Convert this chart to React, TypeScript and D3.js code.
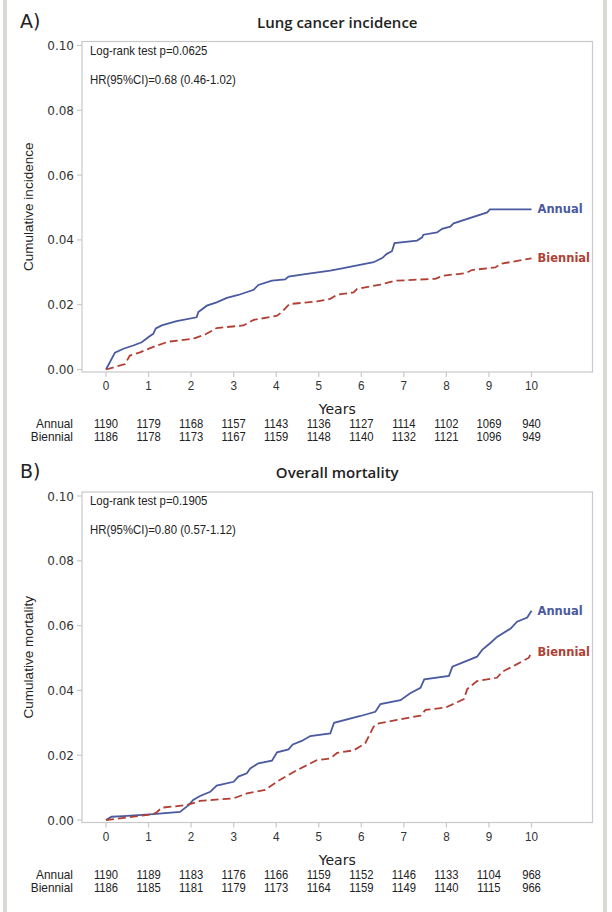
import React from "react";
import * as d3 from "d3";

const years = [0, 1, 2, 3, 4, 5, 6, 7, 8, 9, 10];
const yTicks = [0, 0.02, 0.04, 0.06, 0.08, 0.1];

// Panel A: lung cancer incidence, [year, cumulative incidence]
const incAnnual: [number, number][] = [
  [0, 0], [0.21, 0.0052], [0.41, 0.0064], [0.64, 0.0074], [0.84, 0.0084], [1.0, 0.01], [1.11, 0.011],
  [1.17, 0.0127], [1.31, 0.0136], [1.66, 0.0149], [2.13, 0.0161], [2.17, 0.0177], [2.37, 0.0197],
  [2.6, 0.0207], [2.84, 0.0221], [3.11, 0.023], [3.47, 0.0246], [3.58, 0.0261], [3.9, 0.0274],
  [4.21, 0.0278], [4.29, 0.0287], [4.72, 0.0295], [5.27, 0.0305], [5.58, 0.0313], [6.29, 0.0331],
  [6.49, 0.0344], [6.6, 0.0357], [6.72, 0.0365], [6.78, 0.039], [7.31, 0.0398], [7.43, 0.0408],
  [7.46, 0.0416], [7.78, 0.0423], [7.9, 0.0434], [8.09, 0.0441], [8.17, 0.0451], [8.96, 0.0485],
  [9.02, 0.0494], [10.0, 0.0494],
];
const incBiennial: [number, number][] = [
  [0, 0], [0.45, 0.0017], [0.56, 0.0043], [0.8, 0.0053], [1.15, 0.0072], [1.47, 0.0086], [2.05, 0.0095],
  [2.33, 0.0108], [2.6, 0.0128], [3.23, 0.0136], [3.47, 0.0153], [4.02, 0.0166], [4.13, 0.0177],
  [4.31, 0.0202], [4.96, 0.021], [5.27, 0.0218], [5.43, 0.0231], [5.82, 0.0238], [5.9, 0.0249],
  [6.45, 0.0262], [6.8, 0.0274], [7.74, 0.028], [7.94, 0.029], [8.45, 0.0297], [8.6, 0.0307],
  [9.15, 0.0315], [9.27, 0.0326], [10.0, 0.0343],
];

// Panel B: overall mortality
const mortAnnual: [number, number][] = [
  [0, 0], [0.13, 0.001], [0.41, 0.0012], [1.11, 0.0018], [1.74, 0.0025], [1.94, 0.0046], [2.05, 0.0062],
  [2.21, 0.0074], [2.45, 0.0087], [2.6, 0.0106], [3.0, 0.0118], [3.11, 0.0134], [3.31, 0.0144],
  [3.39, 0.0159], [3.58, 0.0175], [3.9, 0.0183], [4.02, 0.0209], [4.29, 0.0218], [4.39, 0.0233],
  [4.6, 0.0244], [4.8, 0.0259], [5.27, 0.0267], [5.36, 0.03], [5.98, 0.0321], [6.33, 0.0334],
  [6.45, 0.0358], [6.92, 0.037], [7.15, 0.0391], [7.39, 0.0408], [7.48, 0.0434], [8.06, 0.0445],
  [8.14, 0.0473], [8.72, 0.0504], [8.84, 0.0525], [9.04, 0.0547], [9.19, 0.0565], [9.51, 0.0591],
  [9.66, 0.0612], [9.9, 0.0625], [10.0, 0.0646],
];
const mortBiennial: [number, number][] = [
  [0, 0], [1.11, 0.0018], [1.2, 0.0025], [1.31, 0.0038], [1.9, 0.0046], [2.21, 0.0059], [3.0, 0.0067],
  [3.31, 0.0082], [3.74, 0.0093], [4.05, 0.0121], [4.49, 0.0154], [4.96, 0.0185], [5.27, 0.019],
  [5.43, 0.0207], [5.82, 0.0215], [6.09, 0.0236], [6.29, 0.0288], [6.41, 0.0298], [6.84, 0.0309],
  [7.39, 0.0322], [7.51, 0.034], [7.98, 0.0347], [8.41, 0.0373], [8.49, 0.0404], [8.72, 0.0429],
  [9.19, 0.0439], [9.31, 0.0457], [9.66, 0.0481], [9.94, 0.0501], [10.0, 0.052],
];

const incRiskAnnual = [1190, 1179, 1168, 1157, 1143, 1136, 1127, 1114, 1102, 1069, 940];
const incRiskBiennial = [1186, 1178, 1173, 1167, 1159, 1148, 1140, 1132, 1121, 1096, 949];
const mortRiskAnnual = [1190, 1189, 1183, 1176, 1166, 1159, 1152, 1146, 1133, 1104, 968];
const mortRiskBiennial = [1186, 1185, 1181, 1179, 1173, 1164, 1159, 1149, 1140, 1115, 966];

const BLUE = "#4a5a9e";
const RED = "#b23f33";
const GRID = "#c9c9c9";
const FONT = "'DejaVu Sans', sans-serif";
const LIB = "'Liberation Sans', Arial, sans-serif";

type PanelProps = {
  top: number;
  letter: string;
  title: string;
  yLabel: string;
  pText: string;
  hrText: string;
  annual: [number, number][];
  biennial: [number, number][];
  riskA: number[];
  riskB: number[];
};

const FRAME_L = 82;
const FRAME_R = 592.5;

function NText(props: { x: number; y: number; anchor?: string; size: number; sx?: number; children: React.ReactNode; fill?: string }) {
  const sx = props.sx ?? 0.9;
  return (
    <text
      transform={`translate(${props.x},${props.y}) scale(${sx},1)`}
      textAnchor={props.anchor || "start"}
      fontFamily={LIB}
      fontSize={props.size}
      fill={props.fill || "#222"}
    >
      {props.children}
    </text>
  );
}

function Panel(p: PanelProps) {
  const t = p.top; // frame top
  const x = d3.scaleLinear().domain([0, 10]).range([106, 531.5]);
  const y = d3.scaleLinear().domain([0, 0.1]).range([t + 328, t + 4]);
  const frameBottom = t + 330.5;
  const line = d3
    .line<[number, number]>()
    .x((d) => x(d[0]))
    .y((d) => y(d[1]));
  const lastA = p.annual[p.annual.length - 1];
  const lastB = p.biennial[p.biennial.length - 1];
  return (
    <g>
      <text x={20} y={t - 14} fontFamily={FONT} fontSize={19} fill="#222">
        {p.letter}
      </text>
      <text
        x={(FRAME_L + FRAME_R) / 2}
        y={t - 14}
        textAnchor="middle"
        fontFamily="'Open Sans', sans-serif"
        fontSize={15}
        fontWeight={600}
        fill="#222"
      >
        {p.title}
      </text>
      <rect x={FRAME_L} y={t} width={FRAME_R - FRAME_L} height={frameBottom - t} fill="#fff" stroke={GRID} strokeWidth={1.2} />
      {yTicks.map((v) => (
        <g key={v}>
          <line x1={FRAME_L - 5} x2={FRAME_L} y1={y(v)} y2={y(v)} stroke={GRID} strokeWidth={1.2} />
          <text x={FRAME_L - 8} y={y(v) + 4.5} textAnchor="end" fontFamily={FONT} fontSize={12} fill="#333">
            {v.toFixed(2)}
          </text>
        </g>
      ))}
      {years.map((v) => (
        <g key={v}>
          <line x1={x(v)} x2={x(v)} y1={frameBottom} y2={frameBottom + 5} stroke={GRID} strokeWidth={1.2} />
          <NText x={x(v)} y={frameBottom + 18} anchor="middle" size={13} fill="#333">
            {v}
          </NText>
        </g>
      ))}
      <text
        transform={`translate(33,${(t + frameBottom) / 2}) rotate(-90)`}
        textAnchor="middle"
        fontFamily={LIB}
        fontSize={13.5}
        fill="#222"
      >
        {p.yLabel}
      </text>
      <NText x={90} y={t + 13} size={12} sx={0.95}>
        {p.pText}
      </NText>
      <NText x={90} y={t + 42} size={12} sx={0.95}>
        {p.hrText}
      </NText>
      <path d={line(p.annual) || ""} fill="none" stroke={BLUE} strokeWidth={1.8} />
      <path d={line(p.biennial) || ""} fill="none" stroke={RED} strokeWidth={1.8} strokeDasharray="8,4" />
      <text x={x(lastA[0]) + 6} y={y(lastA[1]) + 4} fontFamily={FONT} fontSize={11.5} fontWeight="bold" fill={BLUE}>
        Annual
      </text>
      <text x={x(lastB[0]) + 6} y={y(lastB[1]) + 4} fontFamily={FONT} fontSize={11.5} fontWeight="bold" fill={RED}>
        Biennial
      </text>
      <text x={(FRAME_L + FRAME_R) / 2} y={frameBottom + 42} textAnchor="middle" fontFamily={FONT} fontSize={14} fill="#222">
        Years
      </text>
      <NText x={73} y={frameBottom + 56} anchor="end" size={12.5} sx={0.95}>
        Annual
      </NText>
      <NText x={73} y={frameBottom + 69} anchor="end" size={12.5} sx={0.95}>
        Biennial
      </NText>
      {p.riskA.map((v, i) => (
        <NText key={"a" + i} x={x(years[i])} y={frameBottom + 56} anchor="middle" size={12.5}>
          {v}
        </NText>
      ))}
      {p.riskB.map((v, i) => (
        <NText key={"b" + i} x={x(years[i])} y={frameBottom + 69} anchor="middle" size={12.5}>
          {v}
        </NText>
      ))}
    </g>
  );
}

export default function App() {
  return (
    <svg width={612} height={912} style={{ position: "absolute", left: 0, top: 0, background: "#fff" }}>
      <rect x={0} y={0} width={612} height={912} fill="#fff" />
      <rect x={3} y={0} width={4} height={912} fill="#d9d9d6" />
      <rect x={603} y={0} width={4} height={912} fill="#d9d9d6" />
      <Panel
        top={41.5}
        letter="A)"
        title="Lung cancer incidence"
        yLabel="Cumulative incidence"
        pText="Log-rank test p=0.0625"
        hrText="HR(95%CI)=0.68 (0.46-1.02)"
        annual={incAnnual}
        biennial={incBiennial}
        riskA={incRiskAnnual}
        riskB={incRiskBiennial}
      />
      <Panel
        top={492}
        letter="B)"
        title="Overall mortality"
        yLabel="Cumulative mortality"
        pText="Log-rank test p=0.1905"
        hrText="HR(95%CI)=0.80 (0.57-1.12)"
        annual={mortAnnual}
        biennial={mortBiennial}
        riskA={mortRiskAnnual}
        riskB={mortRiskBiennial}
      />
    </svg>
  );
}
